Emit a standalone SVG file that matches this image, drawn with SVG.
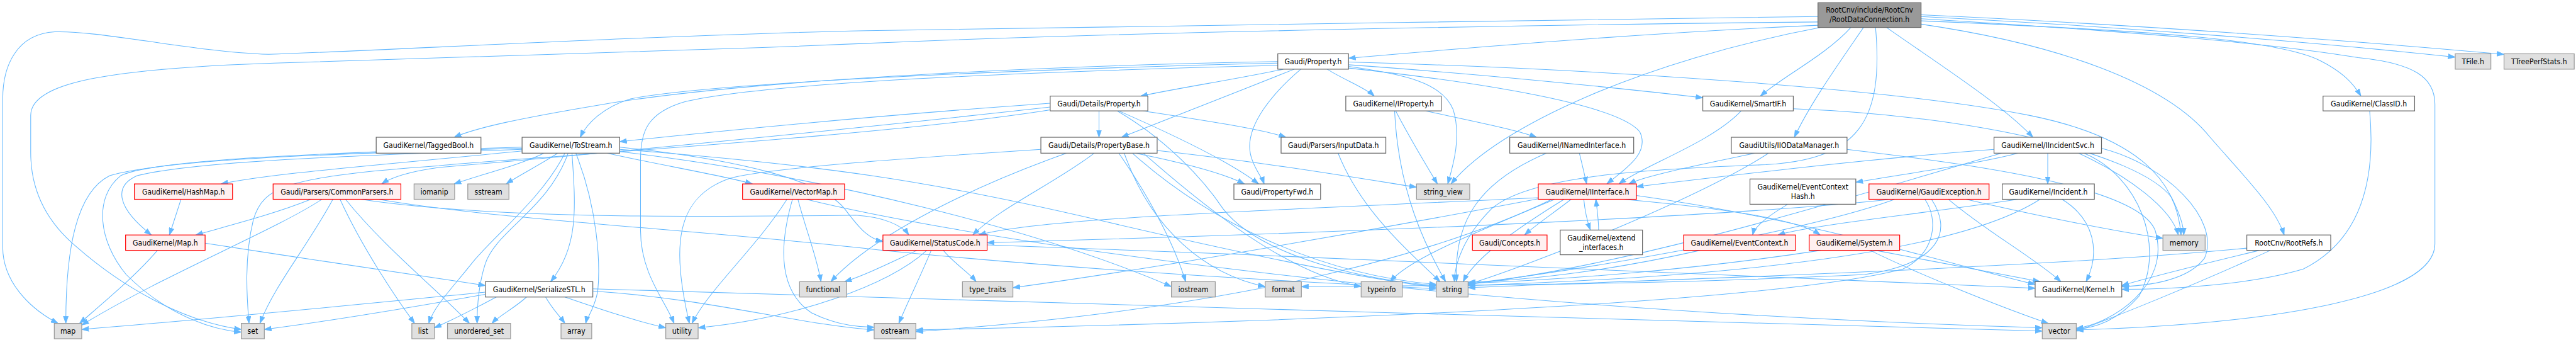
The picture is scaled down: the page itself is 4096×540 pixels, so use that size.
<svg xmlns="http://www.w3.org/2000/svg" width="4096" height="540" viewBox="0 0 4096 540">
<style>
.n rect{fill:#ffffff;stroke:#666666;stroke-width:1.4}
.r rect{fill:#fff0f0;stroke:#ff0000;stroke-width:1.4}
.g rect{fill:#e0e0e0;stroke:#999999;stroke-width:1.4}
.k rect{fill:#999999;stroke:#666666;stroke-width:1.4}
text{font-family:"DejaVu Sans Condensed","Liberation Sans",sans-serif;font-size:14px;text-anchor:middle;fill:#000000}
#edges path{fill:none;stroke:#63b8ff;stroke-width:1.2;marker-end:url(#a)}
</style>
<defs>
<marker id="a" markerWidth="14" markerHeight="10" refX="13" refY="5" orient="auto" markerUnits="userSpaceOnUse"><path d="M0,0.5 L13,5 L0,9.5 z" fill="#63b8ff" stroke="#63b8ff"/></marker>
</defs>
<rect width="4096" height="540" fill="#ffffff"/>
<g transform="scale(0.872)">
<g id="edges">
<path d="M3315,46 C3000,60 2700,85 2459,106"/>
<path d="M3375,50 C3330,100 3250,140 3210,175"/>
<path d="M3398,50 C3350,120 3300,190 3272,250"/>
<path d="M3440,50 C3540,120 3650,190 3707,250"/>
<path d="M3503,38 C3900,55 4150,70 4230,110 C4270,130 4290,150 4305,175"/>
<path d="M3503,44 C3750,80 3950,150 4030,250 C4100,330 4150,380 4165,428"/>
<path d="M3503,30 C3900,50 4250,80 4477,104"/>
<path d="M3503,27 C3900,45 4300,75 4566,99"/>
<path d="M3315,30 C2800,38 2000,48 1580,56 C1200,64 700,92 490,99 C350,94 180,55 100,58 C30,62 5,120 5,180 L5,450 C5,510 50,560 106,589"/>
<path d="M3315,40 C2800,45 2000,60 1580,79 C1200,95 800,108 500,115 C200,125 56,150 56,210 L56,278 C56,340 80,400 140,450 C220,520 330,585 440,600"/>
<path d="M3320,50 C3000,110 2730,230 2646,335"/>
<path d="M3420,50 C3435,220 3390,290 3220,300 C3000,308 2790,320 2720,380 C2670,430 2652,480 2652,513"/>
<path d="M3503,34 C3900,58 4150,80 4300,105 C4400,115 4440,140 4440,190 L4440,444 C4440,540 4150,590 3786,601"/>
<path d="M2340,126 C2250,145 2150,160 2080,175"/>
<path d="M2360,126 C2250,170 2120,220 2045,250"/>
<path d="M2372,126 C2320,170 2270,230 2280,280 C2285,305 2300,320 2305,335"/>
<path d="M2420,126 C2450,145 2490,160 2506,175"/>
<path d="M2459,118 C2700,135 2950,160 3105,178"/>
<path d="M2459,113 C2900,125 3450,160 3700,210 C3900,250 3970,330 3977,428"/>
<path d="M2330,112 C2000,118 1400,140 1100,190 C950,215 870,232 828,250"/>
<path d="M2330,115 C1900,125 1300,150 1150,180 C1100,195 1070,225 1058,250"/>
<path d="M2330,119 C1900,130 1400,150 1250,185 C1180,205 1168,240 1168,290 L1168,420 C1168,500 1215,550 1229,589"/>
<path d="M2459,121 C2560,135 2630,150 2650,200 C2665,250 2650,300 2640,335"/>
<path d="M2459,124 C2700,150 2950,190 2990,240 C3010,280 2960,310 2930,335"/>
<path d="M2004,202 L2004,250"/>
<path d="M2040,202 C2150,250 2250,300 2295,335"/>
<path d="M2085,202 C2200,220 2300,235 2345,250"/>
<path d="M1915,188 C1600,210 1300,240 1130,258"/>
<path d="M1915,195 C1600,230 1100,280 800,305 C750,312 715,322 696,335"/>
<path d="M2037,202 C2120,250 2190,320 2230,380 C2300,470 2500,512 2619,520"/>
<path d="M1915,200 C1600,250 900,290 800,302 C520,322 480,340 462,400 C445,470 450,540 454,589"/>
<path d="M1995,279 C1930,330 1820,380 1774,428"/>
<path d="M1898,272 C1700,285 1400,305 1330,325 C1230,360 1225,450 1257,589"/>
<path d="M2040,279 C2090,350 2140,440 2162,513"/>
<path d="M2065,279 C2200,400 2400,500 2619,518"/>
<path d="M2085,279 C2200,380 2350,500 2482,522"/>
<path d="M2070,279 C2150,295 2230,315 2269,335"/>
<path d="M2050,279 C2100,420 2200,500 2307,522"/>
<path d="M2110,274 C2300,295 2450,320 2583,341"/>
<path d="M1945,279 C1800,330 1600,420 1515,513"/>
<path d="M992,279 C950,300 870,320 828,335"/>
<path d="M1017,279 C985,300 945,320 923,335"/>
<path d="M1030,279 C990,360 900,430 860,480 C820,530 790,560 782,589"/>
<path d="M1036,279 C1000,380 905,420 885,480 C872,520 870,560 870,589"/>
<path d="M1043,279 C1050,380 1055,450 1004,513"/>
<path d="M1050,279 C1090,380 1095,480 1090,530 C1085,560 1070,580 1068,589"/>
<path d="M1107,279 C1200,300 1320,320 1372,335"/>
<path d="M952,275 C700,300 500,315 403,335"/>
<path d="M952,272 C600,285 350,295 250,320 C205,340 215,380 276,428"/>
<path d="M952,270 C600,280 300,290 200,320 C140,350 120,450 120,589"/>
<path d="M952,268 C600,278 280,290 220,320 C170,360 180,440 230,500 C300,570 380,600 440,605"/>
<path d="M1130,268 C1350,290 1500,330 1540,380 C1570,420 1585,435 1610,440"/>
<path d="M1130,272 C1500,300 1700,330 2000,400 C2300,470 2500,510 2619,523"/>
<path d="M1130,276 C1500,320 1900,420 2136,522"/>
<path d="M567,363 C500,390 420,410 357,428"/>
<path d="M587,363 C500,420 300,500 149,592"/>
<path d="M607,363 C560,450 500,520 474,589"/>
<path d="M620,363 C660,450 720,540 756,589"/>
<path d="M630,363 C700,450 800,530 856,589"/>
<path d="M658,363 C900,400 1300,395 1560,392 C1610,395 1645,410 1657,428"/>
<path d="M690,363 C900,400 1300,420 1600,455 C2000,495 2400,515 2619,526"/>
<path d="M330,363 L309,428"/>
<path d="M287,456 C250,500 190,550 145,589"/>
<path d="M374,443 C550,470 750,500 885,520"/>
<path d="M885,532 C700,550 400,580 149,600"/>
<path d="M885,536 C750,560 600,585 482,600"/>
<path d="M905,541 C860,565 820,585 792,597"/>
<path d="M960,541 C940,560 910,575 897,589"/>
<path d="M995,541 C1005,560 1020,575 1030,589"/>
<path d="M1030,541 C1100,565 1160,585 1214,597"/>
<path d="M1081,530 C1300,545 1450,590 1594,601"/>
<path d="M1081,526 C1600,545 3000,582 3724,603"/>
<path d="M1435,363 C1380,450 1290,530 1262,589"/>
<path d="M1455,363 C1470,420 1490,470 1497,513"/>
<path d="M1445,363 C1420,450 1420,530 1480,570 C1520,590 1560,596 1594,596"/>
<path d="M1470,363 C1700,420 2500,560 3724,597"/>
<path d="M1720,456 C1740,480 1765,495 1780,513"/>
<path d="M1698,456 C1680,500 1655,550 1639,589"/>
<path d="M1672,456 C1620,480 1580,500 1540,513"/>
<path d="M1690,456 C1620,520 1450,580 1273,597"/>
<path d="M1800,446 C2500,470 3300,510 3711,525"/>
<path d="M2545,202 C2570,250 2600,300 2621,335"/>
<path d="M2543,202 C2550,350 2600,450 2636,513"/>
<path d="M2600,202 C2680,220 2760,235 2802,250"/>
<path d="M3175,202 C3120,260 3000,300 2952,335"/>
<path d="M3270,198 C3600,210 3900,280 3960,360 C3975,390 3982,410 3982,428"/>
<path d="M2880,279 C2885,300 2890,320 2893,335"/>
<path d="M2820,279 C2700,330 2650,400 2656,513"/>
<path d="M2440,279 C2480,380 2560,450 2626,513"/>
<path d="M2865,363 C2830,390 2800,410 2780,428"/>
<path d="M2888,363 C2890,385 2895,405 2900,419"/>
<path d="M2915,419 C2915,400 2912,380 2910,363"/>
<path d="M2805,360 C2400,380 1900,395 1785,428"/>
<path d="M2805,362 C2500,420 2100,490 1847,524"/>
<path d="M2830,363 C2650,450 2300,560 1670,604"/>
<path d="M2835,363 C2700,420 2570,470 2535,513"/>
<path d="M2852,363 C2760,420 2690,470 2668,513"/>
<path d="M2984,356 C3300,400 3550,480 3711,518"/>
<path d="M2960,363 C3150,380 3280,400 3319,428"/>
<path d="M3200,279 C3100,300 3000,320 2970,335"/>
<path d="M3225,279 C3100,360 2800,480 2677,518"/>
<path d="M3368,272 C3600,300 3900,340 3930,420 C3960,520 3850,590 3786,598"/>
<path d="M3734,279 L3734,335"/>
<path d="M3680,279 C3600,300 3450,320 3384,332"/>
<path d="M3636,272 C3400,290 3150,320 2984,340"/>
<path d="M3650,279 C3400,350 3000,480 2677,518"/>
<path d="M3790,279 C3880,320 3960,380 3972,428"/>
<path d="M3800,279 C3900,320 3950,450 3900,540 C3860,585 3820,597 3786,600"/>
<path d="M3832,270 C3950,300 4050,400 4020,470 C3990,510 3920,520 3869,522"/>
<path d="M3260,372 C3230,390 3200,410 3196,428"/>
<path d="M3553,363 C3620,420 3710,470 3758,513"/>
<path d="M3585,363 C3700,390 3850,420 3944,434"/>
<path d="M3449,363 C3200,390 2600,420 1800,442"/>
<path d="M3455,363 C3300,420 2900,490 2677,517"/>
<path d="M3510,363 C3535,400 3530,460 3470,490 C3200,560 2200,590 1670,601"/>
<path d="M3522,363 C3560,420 3540,480 3400,500 C3000,520 2600,520 2373,522"/>
<path d="M3760,363 C3820,400 3830,460 3804,513"/>
<path d="M3680,363 C3500,390 3300,410 3242,428"/>
<path d="M3720,363 C3600,440 3300,500 2677,520"/>
<path d="M3420,456 C3550,480 3650,500 3720,513"/>
<path d="M3410,456 C3500,500 3650,560 3735,589"/>
<path d="M3320,456 C3100,490 2850,510 2677,516"/>
<path d="M3100,456 C2950,490 2800,510 2677,514"/>
<path d="M4140,456 C4000,520 3850,580 3786,603"/>
<path d="M4120,456 C4020,480 3920,505 3869,520"/>
<path d="M4097,452 C3700,490 3000,510 2677,524"/>
<path d="M4321,202 C4330,300 4320,430 4200,490 C4100,520 3950,527 3869,527"/>
</g>
<g id="n_root" class="k"><rect x="3315" y="5" width="188" height="45"/><text x="3409" y="23">RootCnv/include/RootCnv</text><text x="3409" y="40">/RootDataConnection.h</text></g>
<g id="n_gprop" class="n"><rect x="2330" y="98" width="129" height="28"/><text x="2394.5" y="117">Gaudi/Property.h</text></g>
<g id="n_tfile" class="g"><rect x="4477" y="98" width="65" height="28"/><text x="4509.5" y="117">TFile.h</text></g>
<g id="n_ttree" class="g"><rect x="4566" y="98" width="128" height="28"/><text x="4630" y="117">TTreePerfStats.h</text></g>
<g id="n_dprop" class="n"><rect x="1915" y="175" width="178" height="27"/><text x="2004" y="193.5">Gaudi/Details/Property.h</text></g>
<g id="n_iprop" class="n"><rect x="2454" y="175" width="174" height="27"/><text x="2541" y="193.5">GaudiKernel/IProperty.h</text></g>
<g id="n_smartif" class="n"><rect x="3105" y="175" width="165" height="27"/><text x="3187.5" y="193.5">GaudiKernel/SmartIF.h</text></g>
<g id="n_classid" class="n"><rect x="4236" y="175" width="167" height="27"/><text x="4319.5" y="193.5">GaudiKernel/ClassID.h</text></g>
<g id="n_tagged" class="n"><rect x="686" y="250" width="191" height="29"/><text x="781.5" y="269.5">GaudiKernel/TaggedBool.h</text></g>
<g id="n_tostream" class="n"><rect x="952" y="250" width="178" height="29"/><text x="1041" y="269.5">GaudiKernel/ToStream.h</text></g>
<g id="n_pbase" class="n"><rect x="1898" y="250" width="212" height="29"/><text x="2004" y="269.5">Gaudi/Details/PropertyBase.h</text></g>
<g id="n_input" class="n"><rect x="2336" y="250" width="191" height="29"/><text x="2431.5" y="269.5">Gaudi/Parsers/InputData.h</text></g>
<g id="n_inamed" class="n"><rect x="2753" y="250" width="226" height="29"/><text x="2866" y="269.5">GaudiKernel/INamedInterface.h</text></g>
<g id="n_iiodata" class="n"><rect x="3157" y="250" width="211" height="29"/><text x="3262.5" y="269.5">GaudiUtils/IIODataManager.h</text></g>
<g id="n_iincsvc" class="n"><rect x="3636" y="250" width="196" height="29"/><text x="3734" y="269.5">GaudiKernel/IIncidentSvc.h</text></g>
<g id="n_hashmap" class="r"><rect x="245" y="335" width="179" height="28"/><text x="334.5" y="354">GaudiKernel/HashMap.h</text></g>
<g id="n_cparsers" class="r"><rect x="498" y="335" width="233" height="28"/><text x="614.5" y="354">Gaudi/Parsers/CommonParsers.h</text></g>
<g id="n_iomanip" class="g"><rect x="755" y="335" width="74" height="28"/><text x="792" y="354">iomanip</text></g>
<g id="n_sstream" class="g"><rect x="853" y="335" width="75" height="28"/><text x="890.5" y="354">sstream</text></g>
<g id="n_vmap" class="r"><rect x="1354" y="335" width="186" height="28"/><text x="1447" y="354">GaudiKernel/VectorMap.h</text></g>
<g id="n_pfwd" class="n"><rect x="2250" y="335" width="158" height="28"/><text x="2329" y="354">Gaudi/PropertyFwd.h</text></g>
<g id="n_sview" class="g"><rect x="2583" y="335" width="97" height="28"/><text x="2631.5" y="354">string_view</text></g>
<g id="n_iinterface" class="r"><rect x="2805" y="335" width="179" height="28"/><text x="2894.5" y="354">GaudiKernel/IInterface.h</text></g>
<g id="n_echash" class="n"><rect x="3191" y="326" width="193" height="46"/><text x="3287.5" y="345">GaudiKernel/EventContext</text><text x="3287.5" y="362">Hash.h</text></g>
<g id="n_gexc" class="r"><rect x="3408" y="335" width="219" height="28"/><text x="3517.5" y="354">GaudiKernel/GaudiException.h</text></g>
<g id="n_incident" class="n"><rect x="3651" y="335" width="168" height="28"/><text x="3735" y="354">GaudiKernel/Incident.h</text></g>
<g id="n_map_h" class="r"><rect x="229" y="428" width="145" height="28"/><text x="301.5" y="447">GaudiKernel/Map.h</text></g>
<g id="n_status" class="r"><rect x="1610" y="428" width="190" height="28"/><text x="1705" y="447">GaudiKernel/StatusCode.h</text></g>
<g id="n_concepts" class="r"><rect x="2685" y="428" width="136" height="28"/><text x="2753" y="447">Gaudi/Concepts.h</text></g>
<g id="n_extend" class="n"><rect x="2845" y="419" width="150" height="45"/><text x="2920" y="438">GaudiKernel/extend</text><text x="2920" y="455">_interfaces.h</text></g>
<g id="n_ectx" class="r"><rect x="3070" y="428" width="204" height="28"/><text x="3172" y="447">GaudiKernel/EventContext.h</text></g>
<g id="n_system" class="r"><rect x="3299" y="428" width="165" height="28"/><text x="3381.5" y="447">GaudiKernel/System.h</text></g>
<g id="n_memory" class="g"><rect x="3944" y="428" width="77" height="28"/><text x="3982.5" y="447">memory</text></g>
<g id="n_rootrefs" class="n"><rect x="4097" y="428" width="153" height="28"/><text x="4173.5" y="447">RootCnv/RootRefs.h</text></g>
<g id="n_sstl" class="n"><rect x="885" y="513" width="196" height="28"/><text x="983" y="532">GaudiKernel/SerializeSTL.h</text></g>
<g id="n_functional" class="g"><rect x="1458" y="513" width="86" height="28"/><text x="1501" y="532">functional</text></g>
<g id="n_ttraits" class="g"><rect x="1755" y="513" width="92" height="28"/><text x="1801" y="532">type_traits</text></g>
<g id="n_iostream" class="g"><rect x="2136" y="513" width="80" height="28"/><text x="2176" y="532">iostream</text></g>
<g id="n_format" class="g"><rect x="2307" y="513" width="66" height="28"/><text x="2340" y="532">format</text></g>
<g id="n_typeinfo" class="g"><rect x="2482" y="513" width="75" height="28"/><text x="2519.5" y="532">typeinfo</text></g>
<g id="n_string" class="g"><rect x="2619" y="513" width="58" height="28"/><text x="2648" y="532">string</text></g>
<g id="n_kernel" class="n"><rect x="3711" y="513" width="158" height="28"/><text x="3790" y="532">GaudiKernel/Kernel.h</text></g>
<g id="n_map" class="g"><rect x="99" y="589" width="50" height="28"/><text x="124" y="608">map</text></g>
<g id="n_set" class="g"><rect x="440" y="589" width="42" height="28"/><text x="461" y="608">set</text></g>
<g id="n_list" class="g"><rect x="751" y="589" width="41" height="28"/><text x="771.5" y="608">list</text></g>
<g id="n_uset" class="g"><rect x="816" y="589" width="115" height="28"/><text x="873.5" y="608">unordered_set</text></g>
<g id="n_array" class="g"><rect x="1023" y="589" width="56" height="28"/><text x="1051" y="608">array</text></g>
<g id="n_utility" class="g"><rect x="1214" y="589" width="59" height="28"/><text x="1243.5" y="608">utility</text></g>
<g id="n_ostream" class="g"><rect x="1594" y="589" width="76" height="28"/><text x="1632" y="608">ostream</text></g>
<g id="n_vector" class="g"><rect x="3724" y="589" width="62" height="28"/><text x="3755" y="608">vector</text></g>
</g>
</svg>
